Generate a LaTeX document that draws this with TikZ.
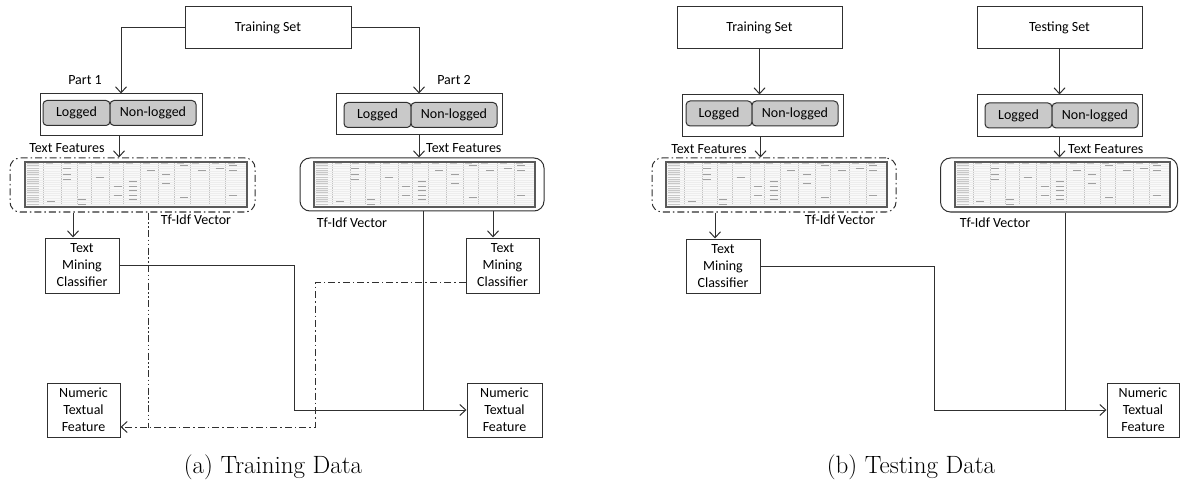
\documentclass[tikz,border=0pt]{standalone}
\usepackage{fontspec}
\newfontfamily\lblfont{Carlito}
\usetikzlibrary{arrows.meta,calc}
\definecolor{lc}{HTML}{303030}
\definecolor{catgray}{HTML}{C9C9C9}
\definecolor{tabborder}{HTML}{5A5A5A}
\definecolor{tabfill}{HTML}{F9F9F9}
\definecolor{gridc}{HTML}{C4C4C4}
\definecolor{gridl}{HTML}{EDEDED}
\definecolor{marks}{HTML}{C8C8C8}
\definecolor{marksd}{HTML}{A0A0A0}
\newcommand\lbl{\lblfont\fontsize{14}{17}\selectfont}
\newcommand\tfgrid[3]{%
  \begin{scope}[shift={(#1.north west)}]
    \foreach \f in {0.085,0.165,0.235,0.30,0.38,0.445,0.52,0.60,0.675,0.745,0.83,0.905}
      \draw[gridc, line width=0.5pt] ({\f*#2},1.5) -- ({\f*#2},{#3-1.5});
    \foreach \r in {1,...,19}
      \draw[gridl, line width=0.3pt] (1,{\r*#3/20}) -- ({#2-1},{\r*#3/20});
    \foreach \r in {1,...,19}
      \draw[marks, line width=0.4pt] (2.5,{\r*#3/20-0.8}) -- ({0.065*#2},{\r*#3/20-0.8});
    \foreach \f in {0.09,0.17,0.24,0.31,0.39,0.45,0.53,0.61,0.68,0.75,0.84,0.91}
      \draw[marks, line width=0.4pt] ({\f*#2+1},1.6) -- ({\f*#2+8},1.6);
    \foreach \f/\r in {0.17/3,0.17/6,0.17/8,0.10/18,0.24/17,0.24/19,0.32/7,0.40/11,0.40/15,0.47/9,0.47/11,0.47/13,0.47/15,0.47/17,0.55/4,0.62/6,0.62/10,0.70/2,0.70/16,0.78/4,0.86/3,0.92/2,0.92/4,0.92/15}
      \draw[marksd, line width=0.45pt] ({\f*#2},{\r*#3/20-0.8}) -- ({\f*#2+8},{\r*#3/20-0.8});
  \end{scope}
  \draw[tabborder, line width=1.8pt] (#1.north west) rectangle (#1.south east);
}
\begin{document}
\begin{tikzpicture}[x=1pt,y=-1pt,
  line/.style={draw=lc, line width=1pt},
  arr/.style={line, -{Straight Barb[length=6pt,width=11pt,line width=1pt]}},
  box/.style={draw=lc, line width=1pt, fill=white, inner sep=0pt, font=\lbl, align=center},
  catbox/.style={draw=lc, line width=1pt, fill=catgray, rounded corners=4pt, inner sep=0pt, font=\lbl, minimum height=25pt},
  vecbox/.style={draw=lc, line width=1pt, rounded corners=10pt, inner sep=0pt},
  dashdot/.style={dash pattern=on 7pt off 3pt on 1.5pt off 3pt},
  dashdotdot/.style={dash pattern=on 7pt off 2.5pt on 1.5pt off 2.5pt on 1.5pt off 2.5pt},
  lab/.style={font=\lbl, inner sep=0pt},
  captext/.style={font=\fontsize{25}{30}\selectfont, inner sep=0pt},
  tab/.style={fill=tabfill, inner sep=0pt, minimum height=45pt}
]
\useasboundingbox (0,0) rectangle (1180,481);

% ================= Panel (a) =================
\node[box, minimum width=166pt, minimum height=42pt] (tsA) at (268,28) {Training Set};
\node[lab] (p1) at (85,80) {Part 1};
\node[lab] (p2) at (454,80) {Part 2};

\node[box, minimum width=162pt, minimum height=42pt] (grpA1) at (121,115) {};
\node[catbox, minimum width=67pt] (logA1) at (76.5,113) {Logged};
\node[catbox, minimum width=86pt] (nlA1) at (153,113) {Non-logged};

\node[box, minimum width=166pt, minimum height=41pt] (grpA2) at (419,114.5) {};
\node[catbox, minimum width=67pt] (logA2) at (377.5,115) {Logged};
\node[catbox, minimum width=86pt] (nlA2) at (454,115) {Non-logged};

\node[vecbox, dashdot, minimum width=245pt, minimum height=54pt] (tfA1) at (132.5,185) {};
\node[tab, minimum width=222pt] (tabA1) at (136,184.5) {};
\tfgrid{tabA1}{222}{45}
\node[vecbox, minimum width=244pt, minimum height=53pt] (tfA2) at (422,184.5) {};
\node[tab, minimum width=221pt] (tabA2) at (424.5,184.5) {};
\tfgrid{tabA2}{221}{45}

\node[lab] (tfl1) at (67,148) {Text Features};
\node[lab, anchor=west] (tfl2) at (426,148) {Text Features};
\node[lab] (tv1) at (196,220) {Tf-Idf Vector};
\node[lab] (tv2) at (352,223) {Tf-Idf Vector};

\node[box, minimum width=74pt, minimum height=55pt] (clfA1) at (82,265.5) {Text\\Mining\\Classifier};
\node[box, minimum width=73pt, minimum height=55pt] (clfA2) at (502.5,265.5) {Text\\Mining\\Classifier};
\node[box, minimum width=73pt, minimum height=54pt] (numA1) at (83.5,410) {Numeric\\Textual\\Feature};
\node[box, minimum width=75pt, minimum height=54pt] (numA2) at (504.5,410) {Numeric\\Textual\\Feature};

\node[captext] (capA) at (273,467) {(a) Training Data};

\draw[arr] (tsA.west) -| (grpA1.north);
\draw[arr] (tsA.east) -| (grpA2.north);
\draw[arr] ($(grpA1.south)+(-2,0)$) -- ($(grpA1.south |- tfA1.north)+(-2,0)$);
\draw[arr] (grpA2.south) -- (grpA2.south |- tfA2.north);
\draw[arr] ($(clfA1.north |- tfA1.south)+(-9,0)$) -- ($(clfA1.north)+(-9,0)$);
\draw[arr] ($(clfA2.north |- tfA2.south)+(-9.5,0)$) -- ($(clfA2.north)+(-9.5,0)$);

\coordinate (jA) at (294,265.5);
\draw[arr] (clfA1.east) -- (jA) |- (numA2.west);
\draw[line] ($(tfA2.south)+(1,0)$) -- ($(tfA2.south |- numA2.west)+(1,0)$);

\coordinate (jD) at (315,427);
\draw[arr, dashdot] ($(clfA2.west)+(0,16.5)$) -| (jD) -- ($(numA1.east)+(0,17)$);
\draw[line, dashdotdot] ($(tfA1.south west)+(139,0)$) -- ($(tfA1.south west)+(139,215)$);

% ================= Panel (b) =================
\node[box, minimum width=165pt, minimum height=42pt] (tsB1) at (759.5,28) {Training Set};
\node[box, minimum width=165pt, minimum height=42pt] (tsB2) at (1059.5,28) {Testing Set};

\node[box, minimum width=161pt, minimum height=42pt] (grpB1) at (762.5,116) {};
\node[catbox, minimum width=66pt] (logB1) at (719,113.5) {Logged};
\node[catbox, minimum width=86pt] (nlB1) at (795,113.5) {Non-logged};

\node[box, minimum width=165pt, minimum height=42pt] (grpB2) at (1059.5,116) {};
\node[catbox, minimum width=67pt] (logB2) at (1018.5,115.5) {Logged};
\node[catbox, minimum width=86pt] (nlB2) at (1095,115.5) {Non-logged};

\node[vecbox, dashdot, minimum width=244pt, minimum height=54pt] (tfB1) at (774,185) {};
\node[tab, minimum width=221pt] (tabB1) at (776.5,184.5) {};
\tfgrid{tabB1}{221}{45}
\node[vecbox, minimum width=237pt, minimum height=54pt] (tfB2) at (1059,185) {};
\node[tab, minimum width=215pt] (tabB2) at (1062.5,184.5) {};
\tfgrid{tabB2}{215}{45}

\node[lab] (tfl3) at (709,149) {Text Features};
\node[lab, anchor=west] (tfl4) at (1068,149) {Text Features};
\node[lab] (tv3) at (840,220) {Tf-Idf Vector};
\node[lab] (tv4) at (995,223) {Tf-Idf Vector};

\node[box, minimum width=74pt, minimum height=54pt] (clfB) at (723,266) {Text\\Mining\\Classifier};
\node[box, minimum width=72pt, minimum height=54pt] (numB) at (1143,410) {Numeric\\Textual\\Feature};

\node[captext] (capB) at (911,467) {(b) Testing Data};

\draw[arr] (tsB1.south) -- (grpB1.north -| tsB1.south);
\draw[arr] (tsB2.south) -- (grpB2.north -| tsB2.south);
\draw[arr] ($(grpB1.south)+(-2,0)$) -- ($(grpB1.south |- tfB1.north)+(-2,0)$);
\draw[arr] (grpB2.south) -- (grpB2.south |- tfB2.north);
\draw[arr] ($(clfB.north |- tfB1.south)+(-8,0)$) -- ($(clfB.north)+(-8,0)$);

\coordinate (jB) at (934,266);
\draw[arr] (clfB.east) -- (jB) |- (numB.west);
\draw[line] ($(tfB2.south)+(6,0)$) -- ($(tfB2.south |- numB.west)+(6,0)$);
\end{tikzpicture}
\end{document}
